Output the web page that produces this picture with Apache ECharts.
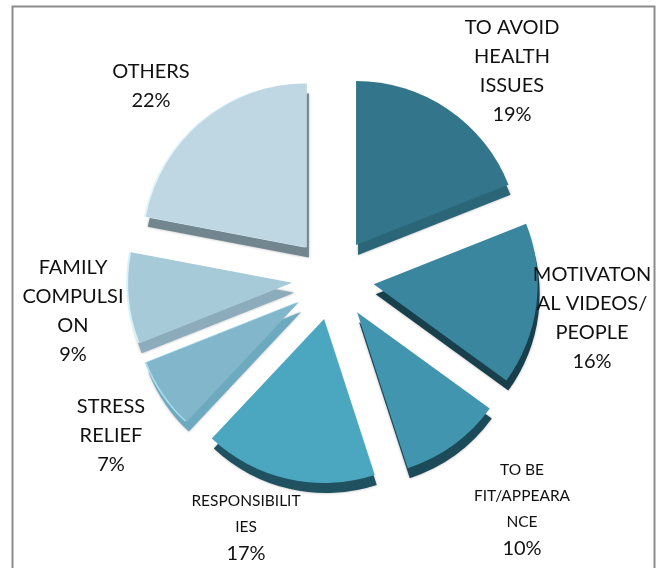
<!DOCTYPE html>
<html>
<head>
<meta charset="utf-8">
<style>
  html, body { margin: 0; padding: 0; background: #fff; }
  #chart { width: 656px; height: 568px; }
</style>
<script src="https://cdn.jsdelivr.net/npm/echarts@6/dist/echarts.min.js"></script>
</head>
<body>
<div id="chart"></div>
<script>
// Reasons for exercising, share of respondents (%)
const categories = [
  'TO AVOID\nHEALTH\nISSUES',
  'MOTIVATON\nAL VIDEOS/\nPEOPLE',
  'TO BE\nFIT/APPEARA\nNCE',
  'RESPONSIBILIT\nIES',
  'STRESS\nRELIEF',
  'FAMILY\nCOMPULSI\nON',
  'OTHERS'
];
const shares = [19, 16, 10, 17, 7, 9, 22];

// Face, extruded side and lit rim colour of each wedge
const faceColors = ['#33758a', '#3b869f', '#4195ae', '#4ba6bf', '#82b7cb', '#a7cad8', '#bfd6e3'];
const sideColors = ['#2b6578', '#17404c', '#1d4a58', '#1f5160', '#6daabf', '#8cacbb', '#72868f'];
const rimColors = ['transparent', 'transparent', 'transparent', 'transparent', '#a8dcee', '#d8f2fa', '#e4f6fb'];

// Which labels use the small print for the name, and where each label is centred
const smallNames = [false, false, true, true, false, false, false];
const labelSpots = [[512, 71], [592, 318], [522, 510], [246, 528], [111, 436], [73, 311], [151, 86]];

const CX = 333, CY = 279, R = 164, EXPLODE = 41;

function wedgeData(colors, extraStyle) {
  return categories.map((name, i) => {
    const style = Object.assign({ color: colors[i] }, extraStyle);
    return {
      name,
      value: shares[i],
      selected: true,
      itemStyle: style,
      select: { itemStyle: style }
    };
  });
}

function basePie(extra) {
  return Object.assign({
    type: 'pie',
    radius: [0, R],
    startAngle: 90,
    clockwise: true,
    avoidLabelOverlap: false,
    selectedMode: 'multiple',
    selectedOffset: EXPLODE,
    silent: true,
    animation: false,
    label: { show: false },
    labelLine: { show: false }
  }, extra);
}

const chart = echarts.init(document.getElementById('chart'), null, { renderer: 'canvas' });
chart.setOption({
  backgroundColor: '#fff',
  graphic: [{
    // Frame runs off the bottom of the page, so only three sides show
    type: 'rect',
    shape: { x: 12.5, y: 6.5, width: 642, height: 600 },
    style: { fill: 'none', stroke: '#8c8c8c', lineWidth: 2 },
    silent: true,
    z: -1
  }],
  series: [
    // Extruded sides sit below and slightly right of the faces
    basePie({
      center: [CX + 2, CY + 10],
      data: wedgeData(sideColors, { shadowBlur: 3, shadowColor: 'rgba(0,0,0,0.3)' }),
      z: 1
    }),
    // Lit rim peeking out on the left of the pale wedges
    basePie({
      center: [CX - 2, CY],
      data: wedgeData(rimColors),
      z: 2
    }),
    // Top faces
    basePie({
      center: [CX, CY],
      data: wedgeData(faceColors),
      z: 3
    }),
    // Invisible, unexploded layer that only carries the labels
    basePie({
      center: [CX, CY],
      selectedMode: false,
      data: categories.map((name, i) => ({
        name,
        value: shares[i],
        itemStyle: { color: 'transparent' }
      })),
      z: 4,
      label: {
        show: true,
        position: 'outside',
        color: '#111',
        fontFamily: 'Lato',
        formatter: p => {
          const size = smallNames[p.dataIndex] ? 's' : 'b';
          const lines = p.name.split('\n').map(t => `{${size}|${t}}`);
          return lines.concat(`{b|${p.value}%}`).join('\n');
        },
        rich: {
          b: { fontFamily: 'Lato', fontSize: 20, lineHeight: 29, color: '#111', align: 'center' },
          s: { fontFamily: 'Lato', fontSize: 15.5, lineHeight: 26, color: '#111', align: 'center' }
        }
      },
      labelLayout: p => ({
        x: labelSpots[p.dataIndex][0],
        y: labelSpots[p.dataIndex][1],
        align: 'center',
        verticalAlign: 'middle'
      })
    })
  ]
});
</script>
</body>
</html>
